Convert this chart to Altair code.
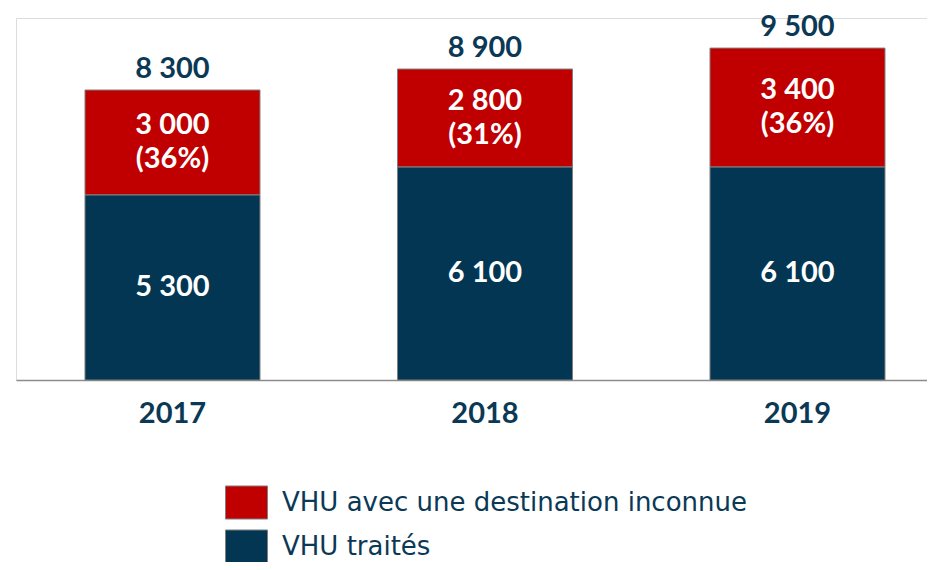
import altair as alt
import pandas as pd

years = ["2017", "2018", "2019"]
traites = [5300, 6100, 6100]
inconnue = [3000, 2800, 3400]
totals = [8300, 8900, 9500]
shares = ["(36%)", "(31%)", "(36%)"]
series = ["VHU avec une destination inconnue", "VHU traités"]
colors = ["#C00000", "#023653"]
text_color = "#0B3955"


def fmt(v):
    return f"{v:,}".replace(",", " ")


rows = []
for i, yr in enumerate(years):
    rows.append(dict(year=yr, serie=series[1], value=traites[i], ord=0,
                     mid=traites[i] / 2, label=fmt(traites[i])))
    rows.append(dict(year=yr, serie=series[0], value=inconnue[i], ord=1,
                     mid=traites[i] + inconnue[i] / 2,
                     label=fmt(inconnue[i]) + "\n" + shares[i]))
df = pd.DataFrame(rows)
tot = pd.DataFrame(dict(year=years, total=totals, label=[fmt(t) for t in totals]))

xscale = alt.Scale(paddingInner=0.44, paddingOuter=0.1776, align=0.6216)
yscale = alt.Scale(domain=[0, 10361])

x = alt.X("year:N", scale=xscale, title=None,
          axis=alt.Axis(labelAngle=0, ticks=False, tickSize=0, labelPadding=42,
                        labelBaseline="alphabetic", labelFont="Lato",
                        labelFontWeight="bold", labelFontSize=29,
                        labelColor=text_color, domainColor="#8C8C8C",
                        domainWidth=1.5, grid=False))

bars = alt.Chart(df).mark_bar(stroke="#7F7F7F", strokeWidth=1).encode(
    x=x,
    y=alt.Y("value:Q", stack="zero", scale=yscale, axis=None),
    order=alt.Order("ord:Q"),
    color=alt.Color("serie:N",
                    scale=alt.Scale(domain=series, range=colors),
                    legend=alt.Legend(orient="none", legendX=209, legendY=463,
                                      title=None, padding=0,
                                      symbolType="M-1,-0.786L1,-0.786L1,0.786L-1,0.786Z",
                                      symbolSize=1764, symbolStrokeColor="#7F7F7F",
                                      symbolStrokeWidth=1, symbolOpacity=1,
                                      labelFont="DejaVu Sans", labelFontSize=26,
                                      labelColor=text_color, labelLimit=800,
                                      rowPadding=3, labelOffset=14)),
)

seg_base = alt.Chart(df).encode(
    x=alt.X("year:N", scale=xscale),
    y=alt.Y("mid:Q", scale=yscale),
    text="label:N",
)

seg_blue = seg_base.transform_filter(alt.datum.ord == 0).mark_text(
    font="Lato", fontWeight="bold", fontSize=29, color="white",
    baseline="middle",
)

seg_red = seg_base.transform_filter(alt.datum.ord == 1).mark_text(
    font="Lato", fontWeight="bold", fontSize=29, color="white",
    baseline="middle", lineBreak="\n", lineHeight=34, dy=-17,
)

tot_text = alt.Chart(tot).mark_text(
    font="Lato", fontWeight="bold", fontSize=29, color=text_color,
    baseline="alphabetic", dy=-12,
).encode(
    x=alt.X("year:N", scale=xscale),
    y=alt.Y("total:Q", scale=yscale),
    text="label:N",
)

chart = alt.layer(bars, seg_blue, seg_red, tot_text).properties(
    width=911, height=362,
    autosize=alt.AutoSizeParams(type="none"),
    padding={"left": 8, "top": 10, "right": 0, "bottom": 182},
).configure_view(stroke=None).configure(font="Lato")

chart.save("out.html", embed_options={"renderer": "svg", "actions": False})
